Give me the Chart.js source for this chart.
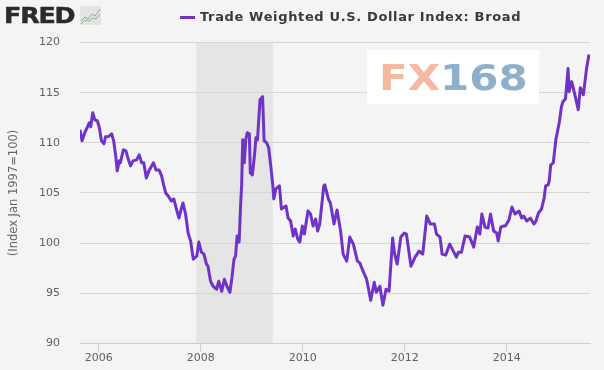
<!DOCTYPE html>
<html>
<head>
<meta charset="utf-8">
<title>Trade Weighted U.S. Dollar Index: Broad</title>
<script src="https://cdn.jsdelivr.net/npm/chart.js@4"></script>
<style>
  html, body { margin: 0; padding: 0; background: #f4f4f5; }
  #wrap { position: relative; width: 604px; height: 370px; overflow: hidden; font-family: "DejaVu Sans", sans-serif; }
  #chart { position: absolute; left: 0; top: 0; }
  #fred { position: absolute; left: 4px; top: 3px; font-size: 22px; font-weight: bold; color: #2b2b2b; letter-spacing: -1px; -webkit-text-stroke: 0.5px #2b2b2b; transform: scaleX(1.15); transform-origin: left top; }
  #fredIcon { position: absolute; left: 80px; top: 6px; }
  #legendLine { position: absolute; left: 180px; top: 16px; width: 15px; height: 3px; background: #7033c8; }
  #legendText { position: absolute; left: 200px; top: 9px; font-size: 13px; font-weight: bold; color: #3a3a3a; letter-spacing: 0.64px; white-space: nowrap; }
  #logoBox { position: absolute; left: 367px; top: 50px; width: 172px; height: 54px; background: #fff; }
  #logoText { position: absolute; left: 12px; top: 0px; font-size: 35px; line-height: 57px; font-weight: bold; transform: scaleX(1.2); transform-origin: left top; white-space: nowrap; }
</style>
</head>
<body>
<div id="wrap">
  <canvas id="chart" width="604" height="370"></canvas>
  <div id="fred">FRED</div>
  <svg id="fredIcon" width="21" height="19" viewBox="0 0 21 19">
    <rect x="0" y="0" width="21" height="19" fill="#e2e4e2"/>
    <polyline points="1,15 5,11 8,13 12,8 15,10 20,3" fill="none" stroke="#8fa8b8" stroke-width="1"/>
    <polyline points="1,18 5,14 9,15 13,12 16,13 20,8" fill="none" stroke="#8fb08a" stroke-width="1"/>
  </svg>
  <div id="legendLine"></div>
  <div id="legendText">Trade Weighted U.S. Dollar Index: Broad</div>
  <div id="logoBox"><div id="logoText"><span style="color:#f5b8a0">FX</span><span style="color:#8fb0c8">168</span></div></div>
</div>
<script>
const seriesName = 'Trade Weighted U.S. Dollar Index: Broad';
const axisTitle = '(Index Jan 1997=100)';
const xTicks = [2006, 2008, 2010, 2012, 2014];
const yTicks = [90, 95, 100, 105, 110, 115, 120];
const recession = [2007.91, 2009.41];

// decimal years
const dates = [
  2005.63, 2005.67, 2005.73, 2005.77, 2005.81, 2005.84, 2005.88, 2005.92, 2005.97, 2006.01,
  2006.05, 2006.10, 2006.13, 2006.18, 2006.25, 2006.29, 2006.33, 2006.36, 2006.40, 2006.42,
  2006.48, 2006.53, 2006.58, 2006.62, 2006.67, 2006.74, 2006.79, 2006.84, 2006.88, 2006.93,
  2006.99, 2007.07, 2007.12, 2007.18, 2007.23, 2007.27, 2007.31, 2007.36, 2007.42, 2007.47,
  2007.52, 2007.57, 2007.62, 2007.65, 2007.70, 2007.75, 2007.80, 2007.85, 2007.92, 2007.96,
  2008.01, 2008.06, 2008.11, 2008.14, 2008.19, 2008.24, 2008.31, 2008.35, 2008.41, 2008.46,
  2008.52, 2008.57, 2008.61, 2008.65, 2008.68, 2008.71, 2008.75, 2008.78, 2008.80, 2008.82,
  2008.85, 2008.88, 2008.91, 2008.95, 2008.97, 2009.01, 2009.05, 2009.08, 2009.11, 2009.16,
  2009.21, 2009.24, 2009.29, 2009.33, 2009.37, 2009.41, 2009.43, 2009.47, 2009.54, 2009.58,
  2009.67, 2009.71, 2009.76, 2009.81, 2009.85, 2009.90, 2009.94, 2009.99, 2010.03, 2010.10,
  2010.15, 2010.20, 2010.25, 2010.29, 2010.33, 2010.41, 2010.43, 2010.50, 2010.54, 2010.61,
  2010.67, 2010.74, 2010.79, 2010.86, 2010.92, 2010.99, 2011.07, 2011.12, 2011.18, 2011.25,
  2011.33, 2011.40, 2011.44, 2011.51, 2011.57, 2011.63, 2011.69, 2011.76, 2011.80, 2011.85,
  2011.92, 2011.99, 2012.03, 2012.12, 2012.20, 2012.28, 2012.35, 2012.43, 2012.50, 2012.58,
  2012.62, 2012.69, 2012.73, 2012.80, 2012.88, 2012.96, 2013.01, 2013.05, 2013.11, 2013.18,
  2013.27, 2013.35, 2013.42, 2013.47, 2013.51, 2013.57, 2013.63, 2013.68, 2013.74, 2013.80,
  2013.83, 2013.88, 2013.93, 2013.97, 2014.04, 2014.10, 2014.16, 2014.24, 2014.29, 2014.33,
  2014.39, 2014.46, 2014.53, 2014.57, 2014.62, 2014.68, 2014.73, 2014.76, 2014.81, 2014.83,
  2014.86, 2014.91, 2014.96, 2015.03, 2015.07, 2015.10, 2015.15, 2015.20, 2015.22, 2015.27,
  2015.31, 2015.40, 2015.44, 2015.50, 2015.56, 2015.61
];
const indexValues = [
  111.3, 110.2, 111.1, 111.5, 112.0, 111.6, 113.0, 112.3, 112.2, 111.5,
  110.2, 109.9, 110.6, 110.6, 110.9, 110.2, 108.7, 107.2, 108.2, 108.0,
  109.3, 109.2, 108.3, 107.7, 108.2, 108.3, 108.8, 108.0, 108.0, 106.5,
  107.3, 108.0, 107.3, 107.3, 106.7, 105.8, 105.0, 104.7, 104.2, 104.4,
  103.4, 102.5, 103.5, 104.0, 102.9, 101.0, 100.2, 98.4, 98.7, 100.1,
  99.1, 98.9, 97.9, 97.7, 96.2, 95.7, 95.4, 96.2, 95.2, 96.4,
  95.6, 95.1, 96.6, 98.4, 98.7, 100.7, 100.1, 103.9, 105.8, 110.3,
  108.0, 110.3, 111.0, 110.9, 107.0, 106.8, 108.7, 110.5, 110.3, 114.3,
  114.6, 110.2, 110.0, 109.5, 107.7, 105.8, 104.4, 105.4, 105.7, 103.4,
  103.7, 102.5, 102.2, 100.7, 101.4, 100.4, 100.1, 101.7, 100.9, 103.2,
  102.9, 101.7, 102.4, 101.2, 101.9, 105.7, 105.8, 104.4, 104.0, 101.9,
  103.3, 101.2, 98.9, 98.2, 100.6, 99.9, 98.2, 98.0, 97.2, 96.4,
  94.3, 96.1, 95.1, 95.7, 93.8, 95.4, 95.2, 100.5, 98.9, 97.9,
  100.6, 101.0, 100.9, 97.7, 98.6, 99.2, 98.9, 102.7, 101.9, 101.9,
  100.9, 100.6, 98.9, 98.8, 99.9, 99.1, 98.6, 99.1, 99.1, 100.7,
  100.6, 99.6, 101.6, 100.9, 102.9, 101.6, 101.5, 102.9, 101.2, 101.0,
  100.2, 101.6, 101.7, 101.7, 102.3, 103.6, 102.9, 103.2, 102.5, 102.7,
  102.2, 102.5, 101.9, 102.2, 103.0, 103.4, 104.5, 105.7, 105.8, 106.2,
  107.8, 108.0, 110.3, 112.1, 113.6, 114.1, 114.4, 117.4, 115.1, 116.1,
  115.3, 113.3, 115.5, 114.8, 117.3, 118.8
];

// recession band sits under the grid lines
const recessionBand = {
  id: 'recessionBand',
  beforeDraw(chart) {
    const { ctx, chartArea, scales } = chart;
    const x1 = scales.x.getPixelForValue(recession[0]);
    const x2 = scales.x.getPixelForValue(recession[1]);
    ctx.save();
    ctx.fillStyle = '#e5e5e6';
    ctx.fillRect(x1, chartArea.top, x2 - x1, chartArea.bottom - chartArea.top);
    ctx.restore();
  }
};

new Chart(document.getElementById('chart'), {
  type: 'line',
  data: {
    datasets: [{
      label: seriesName,
      data: dates.map((d, i) => ({ x: d, y: indexValues[i] })),
      borderColor: '#7033c8',
      borderWidth: 3,
      pointRadius: 0,
      tension: 0,
      borderJoinStyle: 'round'
    }]
  },
  options: {
    responsive: false,
    animation: false,
    layout: { autoPadding: false, padding: { top: 42.5, right: 14, bottom: 0, left: 0 } },
    plugins: { legend: { display: false }, tooltip: { enabled: false } },
    scales: {
      x: {
        type: 'linear',
        min: 2005.63,
        max: 2015.63,
        afterFit: s => { s.height = 25.5; },
        afterBuildTicks: s => { s.ticks = xTicks.map(v => ({ value: v })); },
        grid: { drawOnChartArea: false, tickLength: 8, color: '#c0d0e0' },
        border: { color: '#c0d0e0' },
        ticks: {
          maxRotation: 0,
          padding: 0,
          color: '#606060',
          font: { family: 'DejaVu Sans', size: 11 },
          callback: v => String(v)
        }
      },
      y: {
        min: 90,
        max: 120,
        afterFit: s => { s.width = 80; },
        afterBuildTicks: s => { s.ticks = yTicks.map(v => ({ value: v })); },
        grid: { color: '#d6d6d6', drawTicks: false },
        border: { display: false },
        title: {
          display: true,
          text: axisTitle,
          color: '#666666',
          padding: { top: 7, bottom: 0 },
          font: { family: 'DejaVu Sans', size: 11.5 }
        },
        ticks: {
          padding: 20,
          color: '#606060',
          font: { family: 'DejaVu Sans', size: 11 }
        }
      }
    }
  },
  plugins: [recessionBand]
});
</script>
</body>
</html>
